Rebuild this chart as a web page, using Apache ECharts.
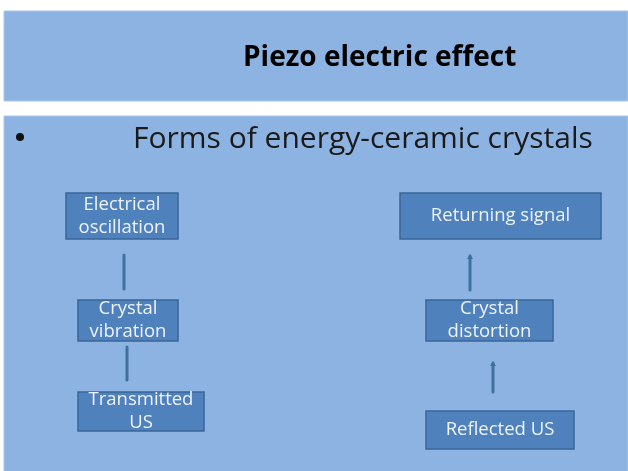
<!DOCTYPE html>
<html>
<head>
    <meta charset="utf-8">
    <title>Piezo electric effect</title>
    <script src="https://cdn.jsdelivr.net/npm/echarts@6/dist/echarts.min.js"></script>
    <style>
        html, body { margin: 0; padding: 0; background: #fff; }
        #chart { width: 628px; height: 471px; }
    </style>
</head>
<body>
<div id="chart"></div>
<script>
    // 文字
    var heading = 'Piezo electric effect';
    var bulletText = 'Forms of energy-ceramic crystals';
    var stepLabels = ['Electrical\noscillation', 'Crystal\nvibration', 'Transmitted\nUS',
                      'Returning signal', 'Crystal\ndistortion', 'Reflected US'];

    // 方框位置 (slide units)
    var boxX0 = [66, 78, 78, 400, 426, 426];
    var boxY0 = [193, 300, 392, 193, 300, 411];
    var boxX1 = [178, 178, 204, 601, 553, 574];
    var boxY1 = [239, 341, 431, 239, 341, 449];

    // 连线
    var linkX  = [124, 127, 470, 493];
    var linkY0 = [255, 347, 290, 392];
    var linkY1 = [289, 380, 256, 363];
    var linkArrow = [false, false, true, true];

    var boxData = stepLabels.map(function (name, i) {
        return { name: name, value: [boxX0[i], boxY0[i], boxX1[i], boxY1[i]] };
    });
    var linkData = linkX.map(function (x, i) {
        return [x, linkY0[i], linkY1[i], linkArrow[i] ? 1 : 0];
    });

    var myChart = echarts.init(document.getElementById('chart'));

    myChart.setOption({
        animation: false,
        backgroundColor: '#ffffff',
        grid: { left: 0, right: 0, top: 0, bottom: 0 },
        xAxis: { type: 'value', min: 0, max: 628, show: false },
        yAxis: { type: 'value', min: 0, max: 471, inverse: true, show: false },
        graphic: [
            { type: 'rect', z: -10, shape: { x: 4, y: 11, width: 624, height: 90 },
              style: { fill: '#8DB3E2', stroke: '#A9C6EA', lineWidth: 1 } },
            { type: 'rect', z: -10, shape: { x: 4, y: 116, width: 624, height: 360 },
              style: { fill: '#8DB3E2', stroke: '#A9C6EA', lineWidth: 1 } },
            { type: 'text', z: 10, style: { text: heading, x: 243, y: 58, fill: '#000',
                font: 'bold 28px "Open Sans"', textAlign: 'left', textVerticalAlign: 'middle' } },
            { type: 'circle', z: 10, shape: { cx: 20, cy: 137, r: 4 }, style: { fill: '#111' } },
            { type: 'text', z: 10, style: { text: bulletText, x: 133, y: 139, fill: '#1a1a1a',
                font: '30px "Open Sans"', textAlign: 'left', textVerticalAlign: 'middle' } }
        ],
        series: [
            {
                name: 'boxes',
                type: 'custom',
                coordinateSystem: 'cartesian2d',
                data: boxData,
                renderItem: function (params, api) {
                    var p0 = api.coord([api.value(0), api.value(1)]);
                    var p1 = api.coord([api.value(2), api.value(3)]);
                    return {
                        type: 'rect',
                        shape: { x: p0[0], y: p0[1], width: p1[0] - p0[0], height: p1[1] - p0[1] },
                        style: { fill: '#4F81BD', stroke: '#3B6698', lineWidth: 1.5 },
                        textContent: {
                            style: {
                                text: stepLabels[params.dataIndex],
                                fill: '#EEF3FA',
                                font: '18.5px "Open Sans"',
                                align: 'center',
                                lineHeight: 23
                            }
                        },
                        textConfig: { position: 'inside' }
                    };
                }
            },
            {
                name: 'links',
                type: 'custom',
                coordinateSystem: 'cartesian2d',
                data: linkData,
                renderItem: function (params, api) {
                    var a = api.coord([api.value(0), api.value(1)]);
                    var b = api.coord([api.value(0), api.value(2)]);
                    var children = [{
                        type: 'line',
                        shape: { x1: a[0], y1: a[1], x2: b[0], y2: b[1] },
                        style: { stroke: '#41709F', lineWidth: 3, lineCap: 'round' }
                    }];
                    if (api.value(3)) {
                        children.push({
                            type: 'polygon',
                            shape: { points: [[b[0] - 3, b[1] + 3], [b[0] + 3, b[1] + 3], [b[0], b[1] - 2]] },
                            style: { fill: '#41709F' }
                        });
                    }
                    return { type: 'group', children: children };
                }
            }
        ]
    });
</script>
</body>
</html>
